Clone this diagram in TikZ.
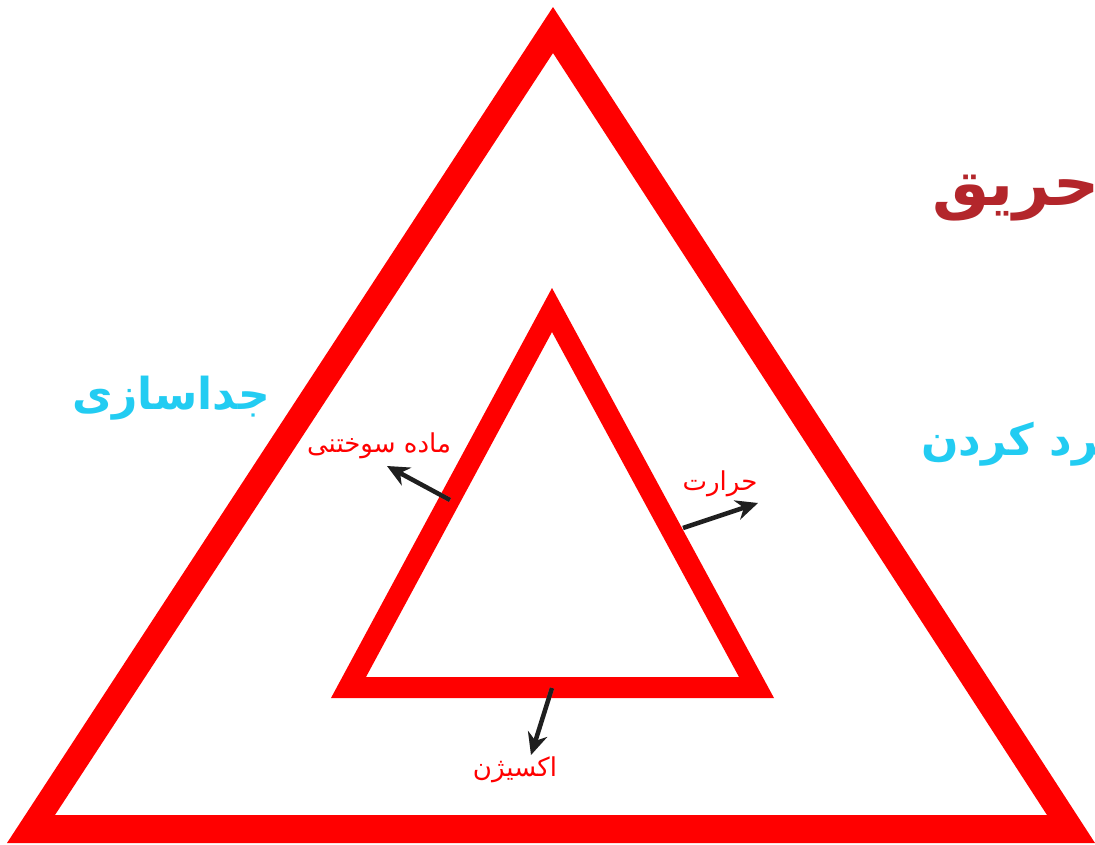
\documentclass[tikz,border=0pt]{standalone}
\usepackage{fontspec}
\TeXXeTstate=1
\newfontfamily\arabicfont[Script=Arabic]{DejaVu Sans}
\usetikzlibrary{arrows.meta}
\definecolor{triRed}{HTML}{FF0000}
\definecolor{cyanT}{HTML}{22CCF2}
\definecolor{darkR}{HTML}{B3262B}
\definecolor{arrC}{HTML}{1F1F1F}
\tikzset{
  bigcyan/.style={text=cyanT, font=\arabicfont\bfseries\fontsize{44}{50}\selectfont, inner sep=0pt},
  bigred/.style={text=darkR, font=\arabicfont\bfseries\fontsize{64}{72}\selectfont, inner sep=0pt},
  lbl/.style={text=triRed, font=\arabicfont\fontsize{26}{30}\selectfont, inner sep=0pt},
  pointer/.style={draw=arrC, line width=4.5pt, -{Stealth[length=22pt,width=20pt]}},
  pshadow/.style={draw=black!25, line width=4.5pt, -{Stealth[length=22pt,width=20pt]}, opacity=0.5}
}
\begin{document}
\begin{tikzpicture}[x=1pt,y=-1pt]
\useasboundingbox (0,0) rectangle (1095,844);
% outer triangle
\fill[triRed,even odd rule] (7,843) -- (553,7) -- (1095,843) -- cycle
  (55,815) -- (553,53) -- (1047,815) -- cycle;
% inner triangle
\fill[triRed,even odd rule] (331,698) -- (552,288) -- (774,698) -- cycle
  (366,677) -- (552,332) -- (739,677) -- cycle;
% big words
\node[bigred, anchor=west] (hariq) at (932,198) {\beginR حریق\endR};
\node[bigcyan, anchor=west] (sard) at (921,444) {\beginR سرد کردن\endR};
\node[bigcyan] (joda) at (171,398) {\beginR جداسازی\endR};
% labels
\node[lbl] (fuel) at (379,446) {\beginR ماده سوختنی\endR};
\node[lbl] (heat) at (720,484) {\beginR حرارت\endR};
\node[lbl] (oxy) at (515,770) {\beginR اکسیژن\endR};
% arrow ends
\coordinate (f0) at (450,500);
\coordinate (f1) at (387,466);
\coordinate (h0) at (683,528);
\coordinate (h1) at (758,503);
\coordinate (o0) at (552,688);
\coordinate (o1) at (531,755);
\begin{scope}[shift={(3,3)}]
\draw[pshadow] (f0) -- (f1);
\draw[pshadow] (h0) -- (h1);
\draw[pshadow] (o0) -- (o1);
\end{scope}
\draw[pointer] (f0) -- (f1);
\draw[pointer] (h0) -- (h1);
\draw[pointer] (o0) -- (o1);
\end{tikzpicture}
\end{document}
